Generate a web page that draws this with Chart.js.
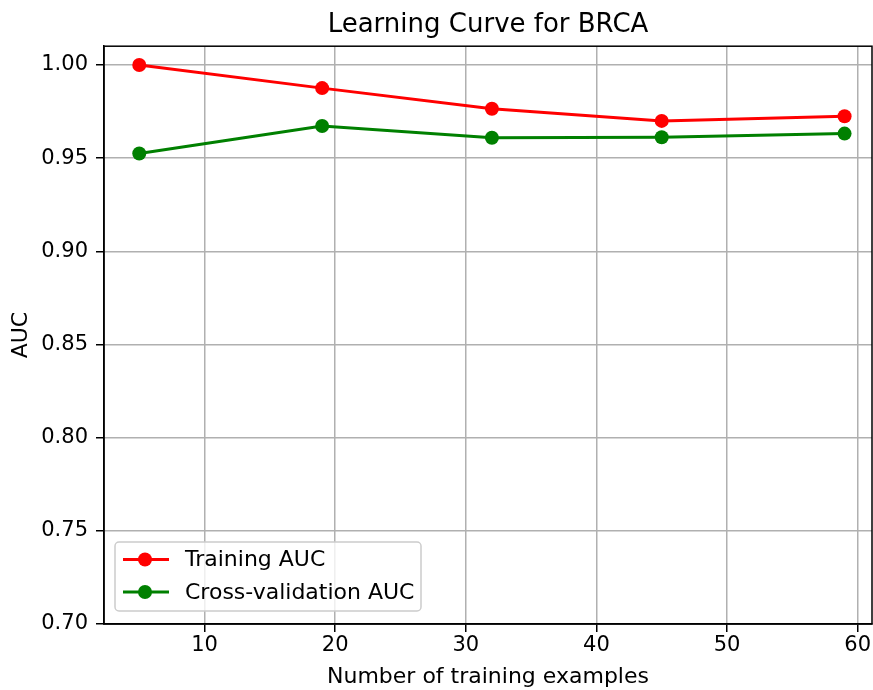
<!DOCTYPE html>
<html>
<head>
<meta charset="utf-8">
<title>Learning Curve for BRCA</title>
<script src="https://cdn.jsdelivr.net/npm/chart.js@4/dist/chart.umd.min.js"></script>
<style>
  html, body { margin: 0; padding: 0; background: #fff; }
</style>
</head>
<body>
<canvas id="curve" width="873" height="690"></canvas>
<script>
const trainSizes = [5, 19, 32, 45, 59];
const trainAuc = [1.000, 0.9876, 0.9765, 0.9700, 0.9725];
const cvAuc = [0.9525, 0.9673, 0.9610, 0.9612, 0.9632];
const xTicks = [10, 20, 30, 40, 50, 60];
const yTicks = [0.70, 0.75, 0.80, 0.85, 0.90, 0.95, 1.00];

const FONT = 'DejaVu Sans';

function toPoints(xs, ys) {
    return xs.map((x, i) => ({ x, y: ys[i] }));
}

// full box round the plot + legend tucked in the lower left corner
const frameAndLegend = {
    id: 'frameAndLegend',
    afterDraw(chart) {
        const { ctx, chartArea: a } = chart;
        ctx.save();
        ctx.strokeStyle = '#000';
        ctx.lineWidth = 1.5;
        ctx.strokeRect(a.left, a.top, a.right - a.left, a.bottom - a.top);

        const w = 306, h = 69;
        const x0 = a.left + 11, y0 = a.bottom - 13 - h;
        ctx.beginPath();
        ctx.roundRect(x0, y0, w, h, 4);
        ctx.fillStyle = 'rgba(255,255,255,0.8)';
        ctx.fill();
        ctx.strokeStyle = '#cccccc';
        ctx.lineWidth = 1.5;
        ctx.stroke();

        ctx.font = '22px "' + FONT + '"';
        ctx.textBaseline = 'middle';
        chart.data.datasets.forEach((ds, i) => {
            const cy = y0 + 17.5 + i * 32.5;
            ctx.strokeStyle = ds.borderColor;
            ctx.lineWidth = ds.borderWidth;
            ctx.beginPath();
            ctx.moveTo(x0 + 8, cy);
            ctx.lineTo(x0 + 54, cy);
            ctx.stroke();
            ctx.fillStyle = ds.pointBackgroundColor;
            ctx.beginPath();
            ctx.arc(x0 + 30, cy, ds.pointRadius, 0, Math.PI * 2);
            ctx.fill();
            ctx.fillStyle = '#000';
            ctx.fillText(ds.label, x0 + 70, cy + 1);
        });
        ctx.restore();
    }
};

function series(label, ys, color) {
    return {
        label,
        data: toPoints(trainSizes, ys),
        borderColor: color,
        backgroundColor: color,
        pointBackgroundColor: color,
        borderWidth: 3,
        pointRadius: 7,
        pointBorderWidth: 0,
        tension: 0
    };
}

const tickFont = { family: FONT, size: 21 };
const gridStyle = { color: '#b0b0b0', lineWidth: 1.5, tickColor: '#000', tickLength: 8 };

new Chart(document.getElementById('curve'), {
    type: 'line',
    data: {
        datasets: [
            series('Training AUC', trainAuc, '#ff0000'),
            series('Cross-validation AUC', cvAuc, '#008000')
        ]
    },
    options: {
        responsive: false,
        devicePixelRatio: 1,
        animation: false,
        // no extra room for marker overflow, plot runs right up to the edge
        layout: { autoPadding: false, padding: { left: 0, right: 1, top: 0, bottom: 0 } },
        plugins: {
            legend: { display: false },
            tooltip: { enabled: false },
            title: {
                display: true,
                fullSize: false,   // centre over the plot area, not the canvas
                text: 'Learning Curve for BRCA',
                color: '#000',
                font: { family: FONT, size: 26, weight: 'normal' },
                padding: { top: 10, bottom: 5 }
            }
        },
        scales: {
            x: {
                type: 'linear',
                min: 2.3,
                max: 61.1,
                afterBuildTicks: s => { s.ticks = xTicks.map(v => ({ value: v })); },
                afterFit: s => { s.height = 66; },
                grid: gridStyle,
                border: { color: '#000', width: 1.5 },
                ticks: { color: '#000', font: tickFont, padding: 1, maxRotation: 0 },
                title: {
                    display: true,
                    text: 'Number of training examples',
                    color: '#000',
                    font: { family: FONT, size: 22 },
                    padding: { top: 0, bottom: 0 }
                }
            },
            y: {
                min: 0.70,
                max: 1.0101,
                afterBuildTicks: s => { s.ticks = yTicks.map(v => ({ value: v })); },
                afterFit: s => { s.width = 104; },
                grid: gridStyle,
                border: { color: '#000', width: 1.5 },
                ticks: { color: '#000', font: tickFont, padding: 8, callback: v => v.toFixed(2) },
                title: {
                    display: true,
                    text: 'AUC',
                    color: '#000',
                    font: { family: FONT, size: 22 },
                    padding: { top: 8, bottom: 0 }
                }
            }
        }
    },
    plugins: [frameAndLegend]
});
</script>
</body>
</html>
